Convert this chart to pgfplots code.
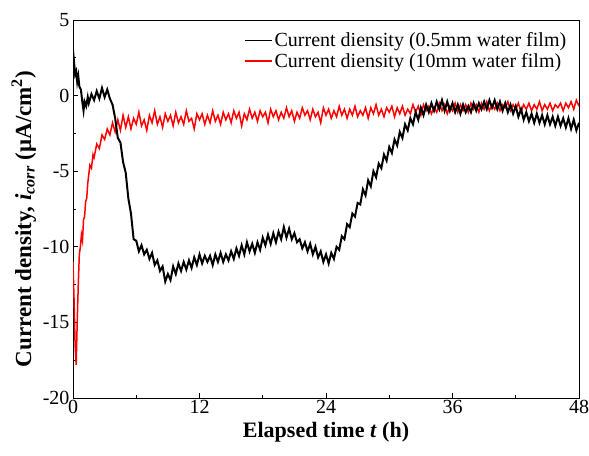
\documentclass[border=0pt]{standalone}
\usepackage{fontspec}
\setmainfont{Liberation Serif}
\usepackage{pgfplots}
\pgfplotsset{compat=1.18}

\begin{document}
\begin{tikzpicture}[x=1bp,y=1bp]
\begin{axis}[
  scale only axis,
  width=506bp, height=378bp,
  xmin=0, xmax=48, ymin=-20, ymax=5,
  xtick={0,12,24,36,48},
  minor xtick={6,18,30,42},
  ytick={-20,-15,-10,-5,0,5},
  yticklabels={-20,-15,-10,-5,0,5},
  xticklabels={0,12,24,36,48},
  minor ytick={-17.5,-12.5,-7.5,-2.5,2.5},
  tick align=inside,
  xtick pos=bottom, ytick pos=left,
  major tick length=5bp, minor tick length=3bp,
  every tick/.style={black, line width=0.8pt},
  axis line style={line width=0.8pt},
  tick label style={font=\fontsize{20bp}{22bp}\selectfont},
  xticklabel style={yshift=1bp},
  xlabel={\bfseries Elapsed time \textbf{\textit{t}} (h)},
  ylabel={\bfseries Current density, \textbf{\textit{i}}\textsubscript{\textbf{\textit{corr}}} (μA/cm\textsuperscript{2})},
  xlabel style={font=\fontsize{22bp}{24bp}\selectfont, yshift=-1bp},
  ylabel style={font=\fontsize{23bp}{25bp}\selectfont, yshift=0bp, xshift=-10bp},
  legend style={at={(rel axis cs:0.981,0.975)}, anchor=north east,
    draw=none, fill=none, font=\fontsize{20bp}{22bp}\selectfont,
    row sep=1bp, inner sep=1bp},
  legend cell align=left,
  legend image code/.code={\draw[#1] (0bp,0bp) -- (27bp,0bp);},
]
\addplot[red, line width=1.5pt, forget plot] coordinates {
(0,-11.0)(0.1,-13.5)(0.2,-16.5)(0.3,-17.8)(0.4,-15.0)(0.5,-12.5)(0.6,-10.5)(0.7,-10.0)
(0.8,-9.2)(0.9,-9.6)(1.0,-8.2)(1.1,-8.0)(1.2,-7.0)(1.3,-6.8)(1.4,-5.8)(1.5,-5.2)
(1.6,-4.6)(1.75,-4.8)(1.9,-3.9)(2.0,-4.1)(2.25,-3.2)(2.5,-3.5)(2.75,-2.6)(3.0,-2.9)
(3.25,-2.2)(3.5,-2.6)(3.75,-1.8)(4.0,-2.4)(4.25,-1.6)(4.5,-2.3)(4.75,-1.3)(5.0,-2.1)
(5.25,-1.4)(5.5,-2.2)(5.75,-1.5)(6.0,-1.9)(6.25,-1.1)(6.5,-2.0)(6.75,-1.6)(7.0,-2.3)
(7.25,-1.3)(7.5,-1.8)(7.75,-1.0)(8.0,-1.9)(8.25,-1.4)(8.5,-2.1)(8.75,-1.2)(9.0,-1.7)
(9.25,-1.3)(9.5,-2.0)(9.75,-1.1)(10.0,-1.8)(10.25,-1.4)(10.5,-1.9)(10.75,-1.0)(11.0,-1.7)
(11.25,-1.5)(11.5,-2.2)(11.75,-1.2)(12.0,-1.6)(12.25,-1.2)(12.5,-1.9)(12.75,-1.3)(13.0,-1.8)
(13.25,-1.0)(13.5,-1.7)(13.75,-1.3)(14.0,-1.9)(14.25,-1.1)(14.5,-1.6)(14.75,-1.2)(15.0,-1.8)
(15.25,-1.0)(15.5,-1.5)(15.75,-1.1)(16.0,-2.0)(16.25,-1.2)(16.5,-1.6)(16.75,-0.9)(17.0,-1.5)
(17.25,-1.1)(17.5,-1.7)(17.75,-1.0)(18.0,-1.4)(18.25,-1.1)(18.5,-1.8)(18.75,-0.9)(19.0,-1.4)
(19.25,-1.0)(19.5,-1.6)(19.75,-1.1)(20.0,-1.5)(20.25,-0.8)(20.5,-1.4)(20.75,-1.0)(21.0,-1.7)
(21.25,-1.1)(21.5,-1.5)(21.75,-0.8)(22.0,-1.3)(22.25,-1.0)(22.5,-1.6)(22.75,-0.9)(23.0,-1.4)
(23.25,-1.1)(23.5,-1.8)(23.75,-0.8)(24.0,-1.3)(24.25,-0.9)(24.5,-1.5)(24.75,-1.0)(25.0,-1.4)
(25.25,-0.7)(25.5,-1.3)(25.75,-0.9)(26.0,-1.5)(26.25,-0.9)(26.5,-1.3)(26.75,-0.7)(27.0,-1.4)
(27.25,-1.0)(27.5,-1.3)(27.75,-0.8)(28.0,-1.5)(28.25,-0.8)(28.5,-1.2)(28.75,-0.6)(29.0,-1.3)
(29.25,-0.9)(29.5,-1.4)(29.75,-0.8)(30.0,-1.1)(30.25,-0.7)(30.5,-1.4)(30.75,-0.8)(31.0,-1.2)
(31.25,-0.7)(31.5,-1.3)(31.75,-0.9)(32.0,-1.2)(32.25,-0.6)(32.5,-1.1)(32.75,-0.7)(33.0,-1.3)
(33.25,-0.6)(33.5,-1.0)(33.75,-0.7)(34.0,-1.2)(34.25,-0.8)(34.5,-1.1)(34.75,-0.5)(35.0,-1.0)
(35.25,-0.6)(35.5,-1.2)(35.75,-0.7)(36.0,-1.0)(36.25,-0.5)(36.5,-1.1)(36.75,-0.6)(37.0,-1.0)
(37.25,-0.6)(37.5,-1.1)(37.75,-0.5)(38.0,-0.9)(38.25,-0.6)(38.5,-1.1)(38.75,-0.5)(39.0,-0.9)
(39.25,-0.4)(39.5,-1.0)(39.75,-0.6)(40.0,-0.9)(40.25,-0.5)(40.5,-1.0)(40.75,-0.6)(41.0,-0.8)
(41.25,-0.4)(41.5,-1.0)(41.75,-0.6)(42.0,-0.9)(42.25,-0.5)(42.5,-1.1)(42.75,-0.6)(43.0,-0.9)
(43.25,-0.5)(43.5,-1.0)(43.75,-0.6)(44.0,-0.9)(44.25,-0.4)(44.5,-1.0)(44.75,-0.6)(45.0,-0.9)
(45.25,-0.5)(45.5,-1.0)(45.75,-0.6)(46.0,-0.8)(46.25,-0.5)(46.5,-1.0)(46.75,-0.5)(47.0,-0.8)
(47.25,-0.4)(47.5,-0.9)(47.75,-0.3)(48.0,-0.7)
};
\addplot[black, line width=2pt, forget plot] coordinates {
(0,3.0)(0.1,2.2)(0.2,1.4)(0.3,1.6)(0.4,0.9)(0.5,1.3)(0.6,0.6)(0.75,0.4)
(0.9,-0.5)(1.0,-1.0)(1.1,-0.4)(1.25,-0.7)(1.4,-0.1)(1.5,-0.5)(1.75,0.1)(2.0,-0.3)
(2.25,0.3)(2.5,-0.2)(2.75,0.5)(3.0,-0.1)(3.25,0.4)(3.5,-0.2)(3.75,-0.6)(4.0,-1.5)
(4.25,-2.8)(4.5,-3.1)(4.75,-4.4)(5.0,-5.1)(5.25,-6.8)(5.5,-7.8)(5.75,-9.5)(6.0,-9.6)
(6.25,-10.3)(6.5,-9.9)(6.75,-10.5)(7.0,-10.2)(7.25,-10.8)(7.5,-10.4)(7.75,-11.2)(8.0,-10.9)
(8.25,-11.6)(8.5,-11.3)(8.75,-12.3)(9.0,-11.8)(9.25,-12.2)(9.5,-11.3)(9.75,-11.8)(10.0,-11.1)
(10.25,-11.6)(10.5,-11.0)(10.75,-11.5)(11.0,-10.9)(11.25,-11.4)(11.5,-10.7)(11.75,-11.2)(12.0,-10.5)
(12.25,-11.1)(12.5,-10.6)(12.75,-11.0)(13.0,-10.6)(13.25,-11.2)(13.5,-10.5)(13.75,-11.0)(14.0,-10.4)
(14.25,-11.0)(14.5,-10.5)(14.75,-10.9)(15.0,-10.3)(15.25,-10.8)(15.5,-10.1)(15.75,-10.6)(16.0,-9.9)
(16.25,-10.5)(16.5,-9.7)(16.75,-10.3)(17.0,-9.8)(17.25,-10.4)(17.5,-9.7)(17.75,-10.2)(18.0,-9.4)
(18.25,-9.9)(18.5,-9.2)(18.75,-9.8)(19.0,-9.1)(19.25,-9.7)(19.5,-9.0)(19.75,-9.5)(20.0,-8.7)
(20.25,-9.4)(20.5,-8.8)(20.75,-9.5)(21.0,-9.1)(21.25,-9.7)(21.5,-9.5)(21.75,-10.1)(22.0,-9.7)
(22.25,-10.3)(22.5,-9.8)(22.75,-10.5)(23.0,-10.0)(23.25,-10.7)(23.5,-10.3)(23.75,-11.0)(24.0,-10.5)
(24.25,-11.1)(24.5,-10.4)(24.75,-10.8)(25.0,-10.0)(25.25,-10.2)(25.5,-9.3)(25.75,-9.5)(26.0,-8.5)
(26.25,-8.7)(26.5,-7.8)(26.75,-8.0)(27.0,-7.1)(27.25,-7.2)(27.5,-6.2)(27.75,-6.6)(28.0,-5.6)
(28.25,-6.0)(28.5,-5.0)(28.75,-5.4)(29.0,-4.5)(29.25,-4.8)(29.5,-3.9)(29.75,-4.3)(30.0,-3.4)
(30.25,-3.8)(30.5,-2.9)(30.75,-3.3)(31.0,-2.4)(31.25,-2.8)(31.5,-1.9)(31.75,-2.3)(32.0,-1.5)
(32.25,-1.9)(32.5,-1.1)(32.75,-1.6)(33.0,-0.8)(33.25,-1.3)(33.5,-0.6)(33.75,-1.1)(34.0,-0.5)
(34.25,-1.0)(34.5,-0.4)(34.75,-0.9)(35.0,-0.3)(35.25,-1.0)(35.5,-0.4)(35.75,-1.0)(36.0,-0.5)
(36.25,-1.1)(36.5,-0.6)(36.75,-1.2)(37.0,-0.6)(37.25,-1.1)(37.5,-0.7)(37.75,-1.1)(38.0,-0.5)
(38.25,-1.0)(38.5,-0.5)(38.75,-0.9)(39.0,-0.4)(39.25,-0.9)(39.5,-0.3)(39.75,-0.8)(40.0,-0.3)
(40.25,-0.9)(40.5,-0.4)(40.75,-1.0)(41.0,-0.5)(41.25,-1.1)(41.5,-0.6)(41.75,-1.2)(42.0,-0.7)
(42.25,-1.4)(42.5,-0.9)(42.75,-1.6)(43.0,-1.1)(43.25,-1.7)(43.5,-1.2)(43.75,-1.8)(44.0,-1.2)
(44.25,-1.8)(44.5,-1.3)(44.75,-1.9)(45.0,-1.3)(45.25,-1.9)(45.5,-1.4)(45.75,-2.0)(46.0,-1.4)
(46.25,-2.0)(46.5,-1.5)(46.75,-2.1)(47.0,-1.5)(47.25,-2.2)(47.5,-1.6)(47.75,-2.3)(48.0,-1.8)
};
\addlegendimage{black, line width=1.6pt}
\addlegendentry{Current diensity (0.5mm water film)}
\addlegendimage{red, line width=1.6pt}
\addlegendentry{Current diensity (10mm water film)}
\end{axis}
\pgfresetboundingbox
\path[use as bounding box] ([shift={(-73bp,-57bp)}]current axis.south west) rectangle ([shift={(10bp,20bp)}]current axis.north east);
\end{tikzpicture}
\end{document}
